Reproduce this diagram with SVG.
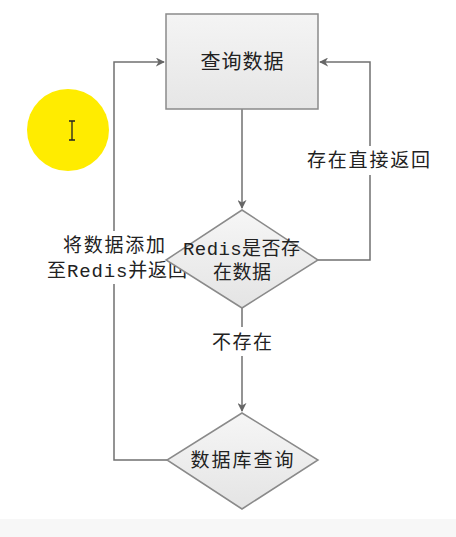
<svg xmlns="http://www.w3.org/2000/svg" width="456" height="537" viewBox="0 0 456 537">
<style>
.ln{fill:none;stroke:#707070;stroke-width:1.5}
.box{stroke:#8a8a8a;stroke-width:1.5}
.sans{font-family:"Noto Sans CJK SC","Noto Sans",sans-serif;fill:#222}
.song{font-family:"Liberation Mono","Noto Sans CJK SC",monospace;fill:#222}
.bg{fill:#ffffff}
</style>
<defs>
<linearGradient id="gBox" x1="0" y1="0" x2="0" y2="1"><stop offset="0" stop-color="#f4f4f4"/><stop offset="1" stop-color="#e6e6e6"/></linearGradient>
<linearGradient id="gDia" x1="0" y1="0" x2="0" y2="1"><stop offset="0" stop-color="#f6f6f6"/><stop offset="1" stop-color="#e4e4e4"/></linearGradient>
<marker id="arr" viewBox="0 0 10 10" refX="9" refY="5" markerWidth="9" markerHeight="9" markerUnits="userSpaceOnUse" orient="auto"><path d="M0,0 L10,5 L0,10 L3,5 z" fill="#666"/></marker>
</defs>
<rect x="0" y="0" width="456" height="537" fill="#ffffff"/>
<rect x="0" y="519" width="456" height="18" fill="#f7f7f7"/>
<circle cx="68" cy="130" r="41" fill="#ffec00"/>
<path d="M69,121 h6 M72,121 v19 M69,140 h6" stroke="#222" stroke-width="1.3" fill="none"/>
<g id="connectors">
<path class="ln" d="M242,109 V208" marker-end="url(#arr)"/>
<path class="ln" d="M318,260 H370 V62 H320" marker-end="url(#arr)"/>
<path class="ln" d="M242,308 V411" marker-end="url(#arr)"/>
<path class="ln" d="M167,460 H114 V62 H164" marker-end="url(#arr)"/>
<rect class="bg" x="300" y="146" width="138" height="29"/>
<text class="sans" x="368.5" y="167" font-size="19" text-anchor="middle" textLength="123">存在直接返回</text>
<rect class="bg" x="205" y="327" width="74" height="29"/>
<text class="sans" x="242" y="349" font-size="19" text-anchor="middle" textLength="60">不存在</text>
<rect class="bg" x="104" y="231" width="20" height="53"/>
<text class="song" x="114" y="252" font-size="19" text-anchor="middle" textLength="102">将数据添加</text>
<text class="song" x="117" y="277" font-size="19" text-anchor="middle" textLength="140">至Redis并返回</text>
</g>
<g id="query">
<rect class="box" x="166" y="14" width="152" height="95" fill="url(#gBox)"/>
<text class="sans" x="242" y="69" font-size="20" text-anchor="middle" textLength="83">查询数据</text>
</g>
<g id="redis-check">
<polygon class="box" points="242,210 318,260 242,308 166,260" fill="url(#gDia)"/>
<text class="song" x="241.5" y="255" font-size="19" text-anchor="middle" textLength="117">Redis是否存</text>
<text class="song" x="242" y="279" font-size="19" text-anchor="middle" textLength="58">在数据</text>
</g>
<g id="db-query">
<polygon class="box" points="242,413 318,460 242,509 167,460" fill="url(#gDia)"/>
<text class="sans" x="242" y="467" font-size="19" text-anchor="middle" textLength="103">数据库查询</text>
</g>
</svg>
